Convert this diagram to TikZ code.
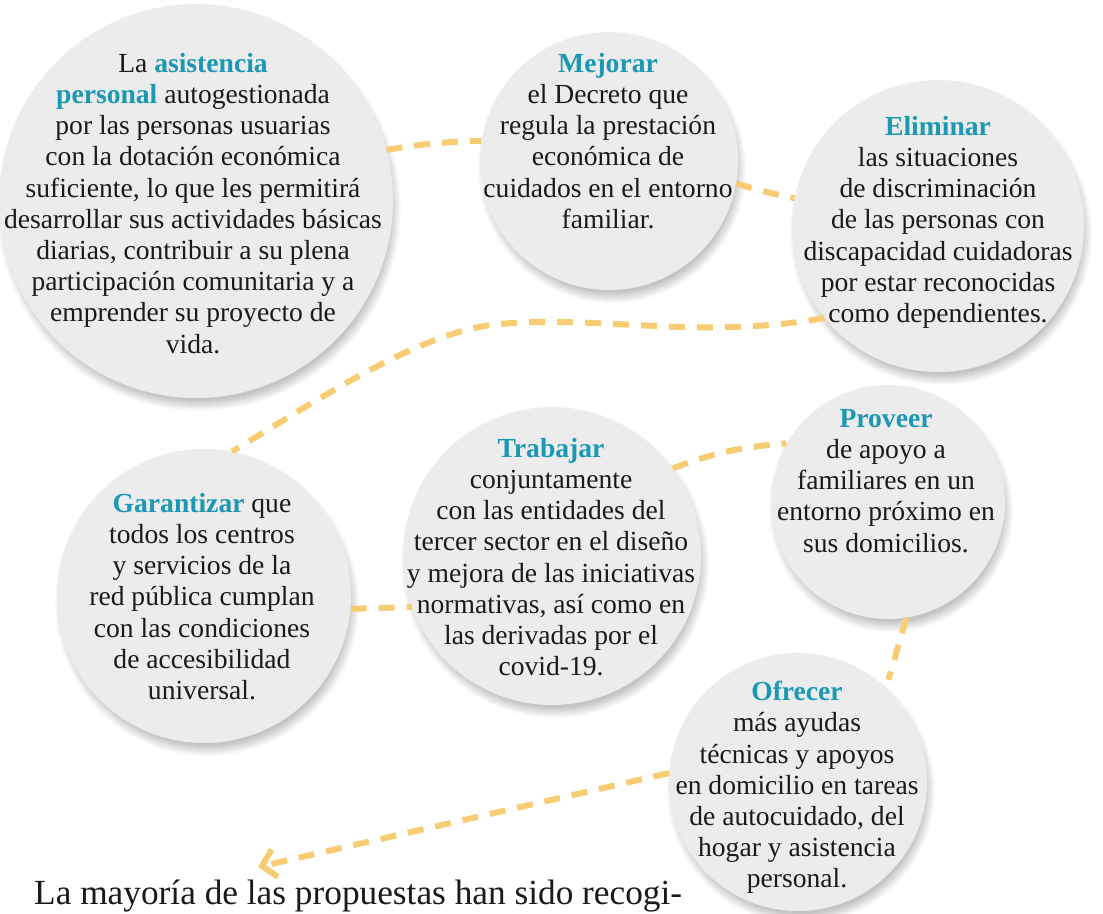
\documentclass[tikz,border=0pt]{standalone}
\usepackage{fontspec}
\setmainfont{Liberation Serif}
\usetikzlibrary{arrows.meta}
\definecolor{bubblefill}{HTML}{ECECEC}
\definecolor{kwc}{HTML}{1A98B4}
\definecolor{dashc}{HTML}{F8CC72}
\definecolor{txtc}{HTML}{1A1A1A}
\newcommand\kw[1]{\textcolor{kwc}{\textbf{#1}}}
\begin{document}
\begin{tikzpicture}[x=1pt,y=-1pt,
  bubble/.style={circle, fill=bubblefill, inner sep=0pt},
  softshade/.style={fill=black, opacity=0.021},
  conn/.style={draw=dashc, line width=6pt, dash pattern=on 16pt off 12pt},
  txt/.style={align=center, inner sep=0pt, font=\fontsize{27.6}{31.2}\selectfont, text=txtc, anchor=north}]
\useasboundingbox (0,0) rectangle (1103,913);
\begin{scope}
\clip (0,0) rectangle (1103,913);
\fill[white] (0,0) rectangle (1103,913);
% soft shadows
\foreach \cx/\cy/\r in {196/201/197, 609/161/129, 938/226/146, 204/596/147, 552/556/149, 888/502/117, 798/782/129}{
  \foreach \k in {0,...,11}{
    \fill[softshade] (\cx+3,\cy+8) circle[radius=\r-6+\k];
  }
}
% bubbles
\node[bubble, minimum size=394pt] (n1) at (196,201) {};
\node[bubble, minimum size=258pt] (n2) at (609,161) {};
\node[bubble, minimum size=292pt] (n3) at (938,226) {};
\node[bubble, minimum size=294pt] (n4) at (204,596) {};
\node[bubble, minimum size=298pt] (n5) at (552,556) {};
\node[bubble, minimum size=234pt] (n6) at (888,502) {};
\node[bubble, minimum size=258pt] (n7) at (798,782) {};
\coordinate (c1) at (500,324);
\coordinate (tip) at (258,867);
% connectors
\draw[conn] (n1.15) to[bend left=4] (n2.171);
\draw[conn] (n2.-10) to[bend right=3] (n3.169);
\draw[conn] (n3.219) .. controls (700,340) and (600,315) .. (c1)
            .. controls (420,330) and (310,405) .. (n4.79);
\draw[conn] (n4.-5) -- (n5.200);
\draw[conn] (n5.36) to[bend left=8] (n6.150);
\draw[conn, shorten >=8pt] (n6.-81) -- (n7.47);
\draw[conn, -{Straight Barb[length=13pt,width=28pt]}] (n7.176) -- (tip);
% texts
\node[txt] (t1) at (193,53) {La \kw{asistencia}\\\kw{personal} autogestionada\\por las personas usuarias\\con la dotación económica\\suficiente, lo que les permitirá\\desarrollar sus actividades básicas\\diarias, contribuir a su plena\\participación comunitaria y a\\emprender su proyecto de\\vida.};
\node[txt] (t2) at (608,53) {\kw{Mejorar}\\el Decreto que\\regula la prestación\\económica de\\cuidados en el entorno\\familiar.};
\node[txt] (t3) at (938,116) {\kw{Eliminar}\\las situaciones\\de discriminación\\de las personas con\\discapacidad cuidadoras\\por estar reconocidas\\como dependientes.};
\node[txt] (t4) at (202,493) {\kw{Garantizar} que\\todos los centros\\y servicios de la\\red pública cumplan\\con las condiciones\\de accesibilidad\\universal.};
\node[txt] (t5) at (551,438) {\kw{Trabajar}\\conjuntamente\\con las entidades del\\tercer sector en el diseño\\y mejora de las iniciativas\\normativas, así como en\\las derivadas por el\\covid-19.};
\node[txt] (t6) at (886,409) {\kw{Proveer}\\de apoyo a\\familiares en un\\entorno próximo en\\sus domicilios.};
\node[txt] (t7) at (797,681) {\kw{Ofrecer}\\más ayudas\\técnicas y apoyos\\en domicilio en tareas\\de autocuidado, del\\hogar y asistencia\\personal.};
\node[anchor=base west, inner sep=0pt, font=\fontsize{35.3}{40}\selectfont, text=txtc] (t8) at (34,904) {La mayoría de las propuestas han sido recogi-};
\end{scope}
\end{tikzpicture}
\end{document}
